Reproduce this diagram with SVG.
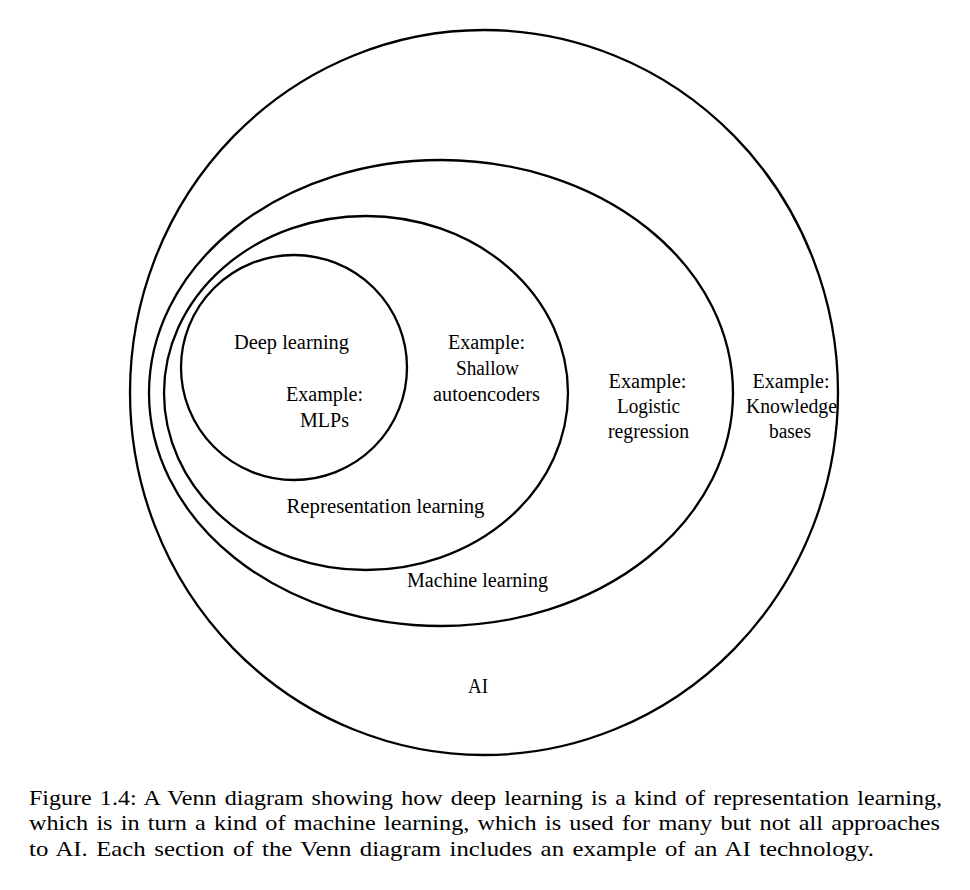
<svg xmlns="http://www.w3.org/2000/svg" width="970" height="890" viewBox="0 0 970 890">
<style>
.set{fill:none;stroke:#000;stroke-width:2.3}
.lbl{font-family:"Liberation Serif","Times New Roman",serif;font-size:20px;fill:#000;text-anchor:middle}
.cap{font-family:"Liberation Serif","Times New Roman",serif;font-size:22px;word-spacing:2px;fill:#000}
</style>
<rect width="970" height="890" fill="#fff"/>
<g id="connectors"></g>
<g id="ai">
<ellipse class="set" cx="484" cy="392.5" rx="354" ry="362.5"/>
<text class="lbl" x="478" y="693" textLength="20" lengthAdjust="spacingAndGlyphs">AI</text>
<text class="lbl" x="791" y="388" textLength="77" lengthAdjust="spacingAndGlyphs">Example:</text>
<text class="lbl" x="791.5" y="413" textLength="91" lengthAdjust="spacingAndGlyphs">Knowledge</text>
<text class="lbl" x="790" y="438" textLength="42" lengthAdjust="spacingAndGlyphs">bases</text>
</g>
<g id="machine-learning">
<ellipse class="set" cx="441" cy="393" rx="292" ry="233"/>
<text class="lbl" x="477.5" y="587" textLength="141" lengthAdjust="spacingAndGlyphs">Machine learning</text>
<text class="lbl" x="647.5" y="388" textLength="78" lengthAdjust="spacingAndGlyphs">Example:</text>
<text class="lbl" x="648.5" y="413" textLength="63" lengthAdjust="spacingAndGlyphs">Logistic</text>
<text class="lbl" x="648.5" y="438" textLength="81" lengthAdjust="spacingAndGlyphs">regression</text>
</g>
<g id="representation-learning">
<ellipse class="set" cx="366" cy="393" rx="202" ry="177"/>
<text class="lbl" x="385.5" y="513" textLength="198" lengthAdjust="spacingAndGlyphs">Representation learning</text>
<text class="lbl" x="486.5" y="349" textLength="77" lengthAdjust="spacingAndGlyphs">Example:</text>
<text class="lbl" x="487.5" y="375" textLength="63" lengthAdjust="spacingAndGlyphs">Shallow</text>
<text class="lbl" x="486.5" y="401" textLength="107" lengthAdjust="spacingAndGlyphs">autoencoders</text>
</g>
<g id="deep-learning">
<ellipse class="set" cx="294" cy="367.5" rx="113" ry="112.5"/>
<text class="lbl" x="291.5" y="349" textLength="115" lengthAdjust="spacingAndGlyphs">Deep learning</text>
<text class="lbl" x="324.5" y="401" textLength="77" lengthAdjust="spacingAndGlyphs">Example:</text>
<text class="lbl" x="324.5" y="427" textLength="49" lengthAdjust="spacingAndGlyphs">MLPs</text>
</g>
<g id="caption">
<text class="cap" x="29" y="805" textLength="913" lengthAdjust="spacingAndGlyphs">Figure 1.4: A Venn diagram showing how deep learning is a kind of representation learning,</text>
<text class="cap" x="29" y="830" textLength="911" lengthAdjust="spacingAndGlyphs">which is in turn a kind of machine learning, which is used for many but not all approaches</text>
<text class="cap" x="29" y="856" textLength="845" lengthAdjust="spacingAndGlyphs">to AI. Each section of the Venn diagram includes an example of an AI technology.</text>
</g>
</svg>
